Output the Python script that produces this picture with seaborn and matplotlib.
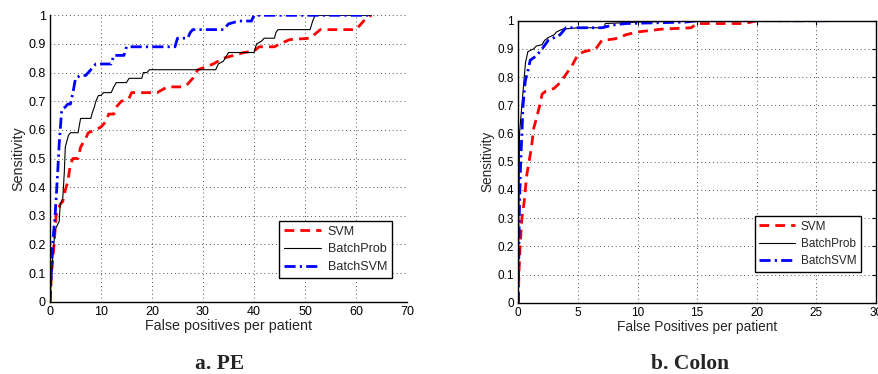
import numpy as np
import pandas as pd
import matplotlib
matplotlib.use("Agg")
import matplotlib.pyplot as plt
import seaborn as sns

sns.set_style("white")
plt.rcParams['font.family'] = ['Liberation Sans', 'DejaVu Sans']

# ---------------- data: PE ----------------
pe_svm_x = [0, 0.3, 0.8, 1.2, 2, 2.5, 3, 3.5, 4, 4.5, 5.5, 6, 7, 7.5, 9, 10, 11, 11.5, 12.5, 13, 14, 15,
            15.5, 16, 21, 22, 23, 26, 27, 28, 29, 32, 33, 34, 38, 40, 41, 44, 45, 47, 51, 52, 53, 60, 61, 62, 63]
pe_svm_y = [0, 0.1, 0.2, 0.3, 0.34, 0.35, 0.39, 0.42, 0.48, 0.5, 0.5, 0.54, 0.57, 0.59, 0.6, 0.61, 0.63,
            0.655, 0.655, 0.68, 0.7, 0.705, 0.71, 0.73, 0.73, 0.74, 0.75, 0.75, 0.76, 0.78, 0.81, 0.83, 0.84,
            0.85, 0.87, 0.875, 0.89, 0.89, 0.9, 0.915, 0.92, 0.935, 0.95, 0.95, 0.97, 0.99, 1.0]

pe_prob_x = [0, 0.5, 1, 1.5, 1.8, 2, 2.5, 2.8, 3, 3.3, 3.6, 4, 5.5, 6, 8, 8.3, 8.7, 9, 9.5, 10, 10.5, 12,
             12.5, 13, 15, 15.5, 18, 18.3, 19, 19.5, 32.5, 33, 34, 35, 40, 40.5, 41.5, 42, 44, 44.3, 44.7,
             51, 51.5, 52, 63]
pe_prob_y = [0, 0.15, 0.25, 0.27, 0.28, 0.34, 0.36, 0.45, 0.54, 0.56, 0.58, 0.59, 0.59, 0.64, 0.64, 0.66,
             0.68, 0.70, 0.72, 0.72, 0.73, 0.73, 0.75, 0.765, 0.765, 0.78, 0.78, 0.80, 0.80, 0.81, 0.81, 0.83,
             0.84, 0.87, 0.87, 0.90, 0.91, 0.92, 0.92, 0.94, 0.95, 0.95, 0.98, 1.0, 1.0]

pe_bsvm_x = [0, 0.5, 1, 1.5, 1.8, 2, 2.3, 3, 3.5, 4, 4.5, 5, 6, 7, 7.5, 8.5, 9, 12, 12.5, 14.5, 15, 24.5,
             25, 27, 27.5, 28, 34, 35, 37, 39.5, 40, 63]
pe_bsvm_y = [0, 0.2, 0.3, 0.45, 0.55, 0.6, 0.67, 0.68, 0.69, 0.69, 0.73, 0.78, 0.79, 0.79, 0.8, 0.82, 0.83,
             0.83, 0.86, 0.86, 0.89, 0.89, 0.92, 0.92, 0.94, 0.95, 0.95, 0.97, 0.98, 0.98, 1.0, 1.0]

# ---------------- data: Colon ----------------
co_svm_x = [0, 0.05, 0.15, 0.3, 0.5, 0.7, 0.9, 1.1, 1.3, 1.5, 1.8, 2, 2.3, 3, 3.5, 4, 4.5, 5, 5.5, 6.5, 7,
            8, 8.5, 9, 10, 11, 12, 14.5, 15, 19, 20, 26]
co_svm_y = [0, 0.1, 0.2, 0.3, 0.36, 0.45, 0.5, 0.55, 0.62, 0.65, 0.7, 0.74, 0.75, 0.76, 0.78, 0.81, 0.84,
            0.88, 0.89, 0.9, 0.93, 0.935, 0.94, 0.95, 0.96, 0.965, 0.97, 0.975, 0.99, 0.99, 1.0, 1.0]

co_prob_x = [0, 0.05, 0.1, 0.2, 0.3, 0.4, 0.5, 0.6, 0.8, 1.0, 1.3, 1.5, 2, 2.2, 2.5, 3, 3.2, 3.7, 5, 7.2,
             7.3, 10, 15, 26]
co_prob_y = [0, 0.3, 0.6, 0.65, 0.7, 0.75, 0.8, 0.85, 0.89, 0.895, 0.9, 0.91, 0.915, 0.93, 0.94, 0.95,
             0.96, 0.97, 0.975, 0.975, 0.99, 0.995, 1.0, 1.0]

co_bsvm_x = [0, 0.05, 0.1, 0.2, 0.3, 0.4, 0.5, 0.6, 0.8, 1.0, 1.5, 2, 2.5, 3, 3.5, 4, 7, 8, 9, 14, 15, 26]
co_bsvm_y = [0, 0.2, 0.35, 0.5, 0.6, 0.7, 0.75, 0.79, 0.82, 0.86, 0.875, 0.9, 0.93, 0.94, 0.95, 0.975,
             0.975, 0.985, 0.99, 0.995, 1.0, 1.0]

labels = ["SVM", "BatchProb", "BatchSVM"]
pe_xticks = [0, 10, 20, 30, 40, 50, 60, 70]
co_xticks = [0, 5, 10, 15, 20, 25, 30]
yticks = [0, 0.1, 0.2, 0.3, 0.4, 0.5, 0.6, 0.7, 0.8, 0.9, 1]
ytick_labels = ["0", "0.1", "0.2", "0.3", "0.4", "0.5", "0.6", "0.7", "0.8", "0.9", "1"]

W, H = 879, 374
fig = plt.figure(figsize=(W / 100, H / 100), dpi=100)

def px_axes(x0, x1, ytop, ybot):
    return fig.add_axes([x0 / W, 1 - ybot / H, (x1 - x0) / W, (ybot - ytop) / H])

ax1 = px_axes(50, 407, 15.3, 301.7)
ax2 = px_axes(518.3, 876, 20.7, 302.7)

styles = [
    dict(color="#ff0000", lw=2.0, dashes=(3.5, 2.2)),
    dict(color="black", lw=0.8, dashes=()),
    dict(color="#0000ff", lw=2.0, dashes=(4, 1.5, 0.8, 1.5)),
]

def draw(ax, series, xticks, xlabel, box, legend_anchor, fs_tick, fs_lab, fs_leg, labelspacing):
    for (xs, ys), lab, st in zip(series, labels, styles):
        df = pd.DataFrame({"x": xs, "y": ys})
        sns.lineplot(data=df, x="x", y="y", ax=ax, sort=False, estimator=None,
                     color=st["color"], lw=st["lw"], label=lab)
        ln = ax.lines[-1]
        if st["dashes"]:
            ln.set_dashes(st["dashes"])
    ax.set_xlim(xticks[0], xticks[-1])
    ax.set_ylim(0, 1)
    ax.set_xticks(xticks)
    ax.set_xticklabels([str(t) for t in xticks])
    ax.set_yticks(yticks)
    ax.set_yticklabels(ytick_labels)
    ax.grid(True, linestyle=(0, (1, 3)), color="#555555", lw=0.7)
    ax.tick_params(direction="in", length=3, labelsize=fs_tick, pad=3, colors="black",
                   top=box, right=box)
    ax.set_xlabel(xlabel, fontsize=fs_lab, labelpad=1)
    ax.set_ylabel("Sensitivity", fontsize=fs_lab, labelpad=2)
    for s in ["left", "bottom"]:
        ax.spines[s].set_color("black")
        ax.spines[s].set_linewidth(1.0)
    for s in ["top", "right"]:
        ax.spines[s].set_visible(box)
        ax.spines[s].set_color("black")
        ax.spines[s].set_linewidth(1.0)
    leg = ax.legend(loc="lower right", bbox_to_anchor=legend_anchor, fontsize=fs_leg,
                    frameon=True, fancybox=False, edgecolor="black", framealpha=1,
                    handlelength=3.0, labelspacing=labelspacing, borderpad=0.4, handletextpad=0.5,
                    borderaxespad=0)
    leg.get_frame().set_linewidth(1.0)

draw(ax1, [(pe_svm_x, pe_svm_y), (pe_prob_x, pe_prob_y), (pe_bsvm_x, pe_bsvm_y)],
     pe_xticks, "False positives per patient", False, (0.958, 0.083), 9, 10.3, 9, 0.45)
draw(ax2, [(co_svm_x, co_svm_y), (co_prob_x, co_prob_y), (co_bsvm_x, co_bsvm_y)],
     co_xticks, "False Positives per patient", True, (0.958, 0.109), 8.5, 9.8, 8.5, 0.45)

fig.text(220 / W, 1 - 364 / H, "a. PE", ha="center", va="center", fontsize=15.5,
         fontweight="bold", family=["Liberation Serif", "DejaVu Serif"])
fig.text(690 / W, 1 - 364 / H, "b. Colon", ha="center", va="center", fontsize=15.5,
         fontweight="bold", family=["Liberation Serif", "DejaVu Serif"])

fig.savefig("out.png", dpi=100)
